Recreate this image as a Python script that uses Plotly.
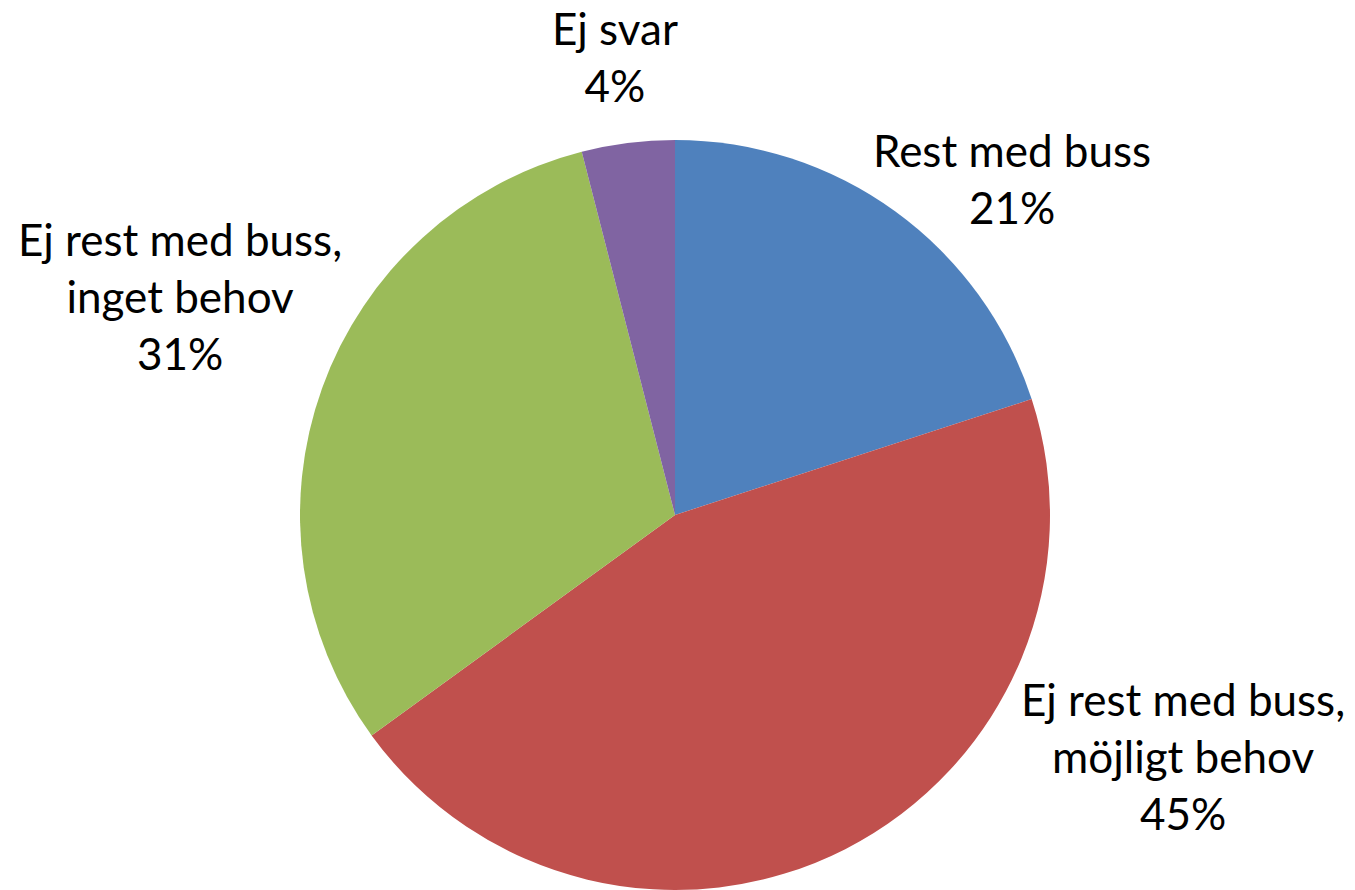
import plotly.graph_objects as go

categories = ["Rest med buss", "Ej rest med buss,<br>möjligt behov", "Ej rest med buss,<br>inget behov", "Ej svar"]
values = [20.0, 45.0, 31.0, 4.0]
pct_labels = ["21%", "45%", "31%", "4%"]
colors = ["#4F81BD", "#C0504D", "#9BBB59", "#8064A2"]

W, H = 1355, 890
OFF = 8  # page body margin offset
cx, cy, r = 675 - OFF, 515 - OFF, 375

fig = go.Figure(go.Pie(
    labels=categories,
    values=values,
    sort=False,
    direction="clockwise",
    rotation=0,
    marker=dict(colors=colors, line=dict(width=0)),
    textinfo="none",
    hoverinfo="label+percent",
    domain=dict(x=[(cx - r) / W, (cx + r) / W], y=[(H - (cy + r)) / H, (H - (cy - r)) / H]),
    showlegend=False,
))

# label block centres (pixels, in screenshot coordinates)
label_pos = [(1012, 178), (1183, 756), (180, 296), (615, 57)]
font = dict(family="Lato, 'Open Sans', sans-serif", size=44, color="#000000")
for cat, pct, (px, py) in zip(categories, pct_labels, label_pos):
    fig.add_annotation(
        x=(px - OFF) / W, y=1 - (py - OFF) / H, xref="paper", yref="paper",
        text=f"{cat}<br>{pct}", showarrow=False,
        xanchor="center", yanchor="middle", align="center", font=font,
    )

fig.update_layout(
    width=W, height=H,
    margin=dict(l=0, r=0, t=0, b=0),
    paper_bgcolor="white", plot_bgcolor="white",
)
fig.write_html("out.html")
